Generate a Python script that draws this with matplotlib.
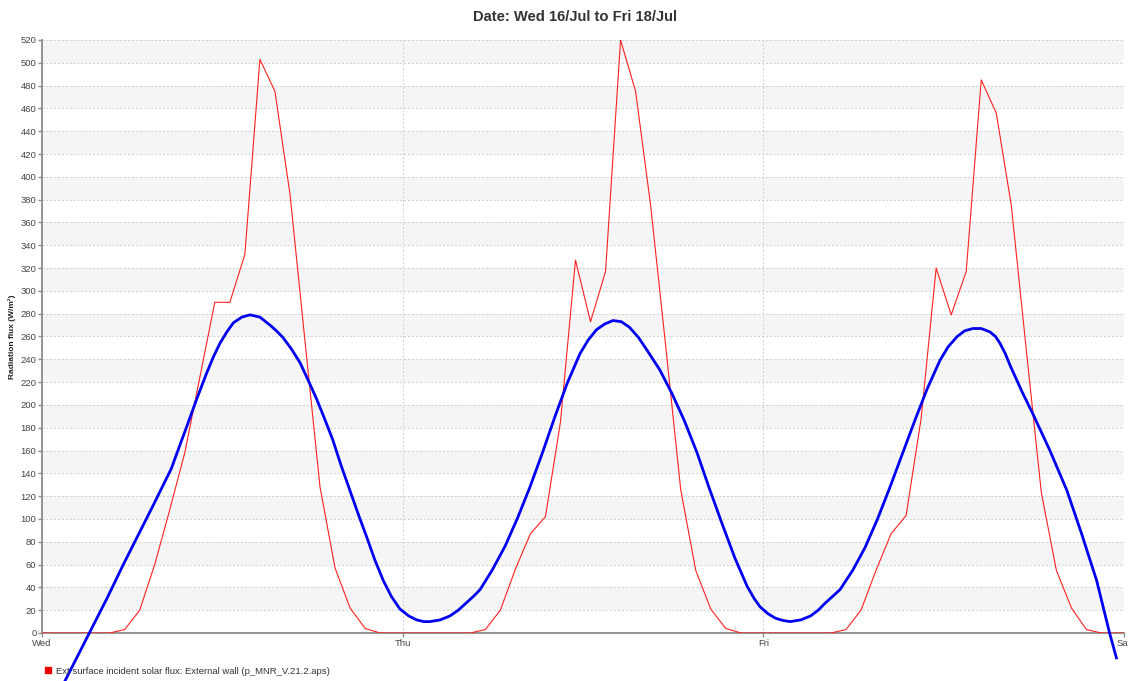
import matplotlib
matplotlib.use("Agg")
import matplotlib.pyplot as plt
from matplotlib.lines import Line2D

# ---- data ----
day_labels = ["Wed", "Thu", "Fri", "Sat"]
day_ticks = [0, 24, 48, 72]

# hourly incident solar flux (values at mid-hour), W/m2
red_wed = [0, 0, 0, 0, 0, 3, 20, 60, 108, 158, 224, 290, 290, 332, 503, 475, 385, 256, 128, 57, 22, 4, 0, 0]
red_thu = [0, 0, 0, 0, 0, 3, 20, 56, 87, 102, 185, 327, 273, 317, 520, 475, 375, 252, 126, 55, 21, 4, 0, 0]
red_fri = [0, 0, 0, 0, 0, 3, 20, 55, 87, 103, 188, 320, 279, 317, 485, 456, 375, 248, 123, 55, 22, 3, 0, 0]
red_hours = [h + 0.5 for h in range(72)]

# smooth blue series (hour, value)
blue_hours = [1.0, 1.53, 3.15, 4.31, 5.41, 6.52, 7.4, 8.30, 8.6, 8.96, 9.63, 10.29, 10.96, 11.4, 11.84,
              12.3, 12.73, 13.3, 13.84, 14.5, 15.17, 15.6, 16.04, 16.6, 17.17, 17.7, 18.28, 18.8, 19.36,
              19.9, 20.49, 21.05, 21.61, 22.15, 22.71, 23.25, 23.82, 24.4, 24.93, 25.4, 25.82, 26.5,
              27.15, 27.7, 28.2, 28.7, 29.15, 29.95, 30.81, 31.65, 32.47, 33.3, 34.14, 34.95, 35.80,
              36.35, 36.9, 37.45, 38.0, 38.55, 39.1, 39.7, 40.26, 41.1, 41.92, 42.75, 43.59, 44.4,
              45.25, 46.1, 46.92, 47.4, 47.78, 48.3, 48.8, 49.3, 49.78, 50.5, 51.15, 51.65, 52.1,
              52.6, 53.10, 53.95, 54.77, 55.6, 56.43, 57.25, 58.10, 58.9, 59.75, 60.3, 60.9, 61.4,
              61.95, 62.5, 63.08, 63.45, 63.75, 64.1, 64.41, 65.2, 65.94, 67.07, 68.20, 69.18, 70.18,
              71.04, 71.52]
blue_vals = [-56, -42, 0, 30, 60, 89, 112, 136, 144, 157, 181, 205, 228, 242, 254,
             264, 272, 277, 279, 277, 270, 265, 259, 249, 237, 222, 205, 188, 169,
             147, 125, 104, 84, 64, 46, 32, 21, 15, 11.5, 10, 10, 11.5,
             15, 20, 26, 32, 38, 55, 76, 101, 128, 158, 190, 219, 245,
             257, 266, 271, 274, 273, 268, 259, 248, 231, 210, 186, 158, 127,
             96, 66, 41, 30, 23, 17, 13, 11, 10, 11.5, 15, 20, 26,
             32, 38, 55, 75, 100, 128, 157, 187, 214, 239, 251, 260, 265,
             267, 267, 264, 260, 254, 245, 235, 212, 192, 160, 125, 87, 46,
             0, -23]

y_ticks = list(range(0, 521, 20))
title = "Date: Wed 16/Jul to Fri 18/Jul"
ylabel = "Radiation flux (W/m²)"
legend_label = "Ext surface incident solar flux: External wall (p_MNR_V.21.2.aps)"

# ---- figure ----
plt.rcParams['font.family'] = ['Liberation Sans', 'DejaVu Sans']
W, H = 1128, 681
fig = plt.figure(figsize=(W / 100, H / 100), dpi=100)
ax = fig.add_axes([42 / W, (H - 633) / H, (1124 - 42) / W, (633 - 40) / H])

ax.set_xlim(0, 72)
ax.set_ylim(0, 520)

# alternating bands
for lo in range(20, 520, 40):
    ax.axhspan(lo, lo + 20, color="#f5f5f5", zorder=0, lw=0)

# grid
for yv in y_ticks[1:]:
    ax.axhline(yv, color="#cfcfcf", lw=0.7, ls=(0, (2, 2)), zorder=1)
for xv in day_ticks[1:]:
    ax.axvline(xv, color="#cfcfcf", lw=0.7, ls=(0, (2, 2)), zorder=1)

red_vals = red_wed + red_thu + red_fri
ax.plot([-0.5] + red_hours + [72.5], [0] + red_vals + [0], color="#ff2020", lw=0.8, zorder=3)
ax.plot(blue_hours, blue_vals, color="#0000f0", lw=2.0, zorder=4, clip_on=False,
        solid_capstyle="butt", solid_joinstyle="round")

for s in ["top", "right"]:
    ax.spines[s].set_visible(False)
for s in ["left", "bottom"]:
    ax.spines[s].set_color("#8a8a8a")
    ax.spines[s].set_linewidth(1.3)
    ax.spines[s].set_zorder(2)

ax.set_yticks(y_ticks)
ax.set_xticks(day_ticks)
ax.set_xticklabels(day_labels)
ax.tick_params(axis="both", colors="#8a8a8a", labelcolor="#444444", labelsize=6.8,
               length=3, width=1, pad=1)

ax.set_ylabel(ylabel, fontsize=6.0, fontweight="bold", color="#222222", labelpad=3)
fig.text(575 / W, 1 - 17 / H, title, ha="center", va="center", fontsize=10.6,
         fontweight="bold", color="#333333")

handle = Line2D([], [], marker="s", color="#ee0000", linestyle="none", markersize=4.5)
fig.legend(handles=[handle], labels=[legend_label], loc="center left",
           bbox_to_anchor=(39 / W, 1 - 671 / H), frameon=False, fontsize=6.8,
           handletextpad=0.35, handlelength=1.0, borderpad=0, labelcolor="#333333")

fig.savefig("out.png", dpi=100)
